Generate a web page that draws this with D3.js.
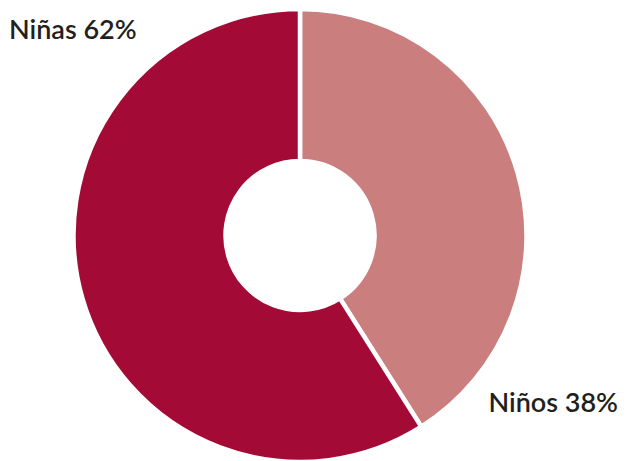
<!DOCTYPE html>
<html>
<head>
<meta charset="utf-8">
<script src="https://cdn.jsdelivr.net/npm/d3@7.9.0/dist/d3.min.js"></script>
<style>
  body { margin: 0; background: #fff; }
  svg { display: block; }
  .label { font-family: Lato, 'Noto Sans', sans-serif; font-weight: 600; font-size: 27px; fill: #231f20; }
</style>
</head>
<body>
<svg width="629" height="461"></svg>
<script>
const categories = ['Niños', 'Niñas'];
const percentages = [38, 62];
// slice sizes as they are drawn in the picture (the separator sits near 148°)
const arcShares = [41, 59];
const colors = ['#cb7e7e', '#a30b36'];

const svg = d3.select('svg');
const cx = 300, cy = 235.5;

const data = categories.map((c, i) => ({ label: c, pct: percentages[i], value: arcShares[i], color: colors[i] }));

let pie = d3.pie().value(d => d.value).sort(null);
let arcGenerator = d3.arc().innerRadius(74.5).outerRadius(226.5);

const g = svg.append('g').attr('transform', `translate(${cx},${cy})`);

g.selectAll('path')
  .data(pie(data))
  .join('path')
  .attr('d', arcGenerator)
  .attr('fill', d => d.data.color)
  .attr('stroke', '#fff')
  .attr('stroke-width', 4.5)
  .attr('stroke-linejoin', 'miter');

// labels
const labelPos = [
  { x: 618, y: 412, anchor: 'end' },
  { x: 9, y: 39, anchor: 'start' }
];

data.forEach((d, i) => {
  svg.append('text')
    .attr('class', 'label')
    .attr('x', labelPos[i].x)
    .attr('y', labelPos[i].y)
    .attr('text-anchor', labelPos[i].anchor)
    .text(`${d.label} ${d.pct}%`);
});
</script>
</body>
</html>
